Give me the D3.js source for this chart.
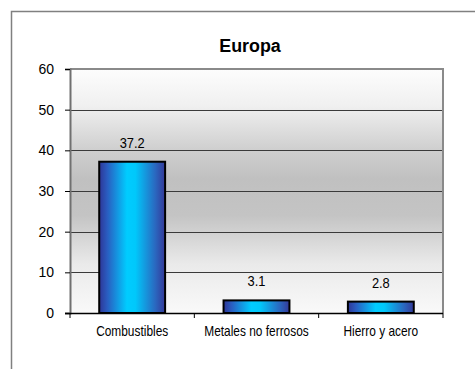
<!DOCTYPE html>
<html><head><meta charset="utf-8">
<script src="https://cdn.jsdelivr.net/npm/d3@7"></script>
<style>body{margin:0;background:#fff}svg{display:block}text{font-family:"Liberation Sans",Arial,sans-serif;fill:#000}</style>
</head><body><div id="chart"></div>
<script>
const title = "Europa";
const categories = ["Combustibles", "Metales no ferrosos", "Hierro y acero"];
const values = [37.2, 3.1, 2.8];
const valueLabels = ["37.2", "3.1", "2.8"];
const yTicks = [0, 10, 20, 30, 40, 50, 60];

const W = 475, H = 369;
const m = {left: 70, right: 32, top: 69, bottom: 56};
const svg = d3.select("#chart").append("svg").attr("width", W).attr("height", H);
const defs = svg.append("defs");

const bg = defs.append("linearGradient").attr("id","bg").attr("x1",0).attr("y1",0).attr("x2",0).attr("y2",1);
[[0,"#fdfdfd"],[0.15,"#f0f0f0"],[0.33,"#cfcfcf"],[0.45,"#c0c0c0"],[0.6,"#c4c4c4"],[0.8,"#eaeaea"],[1,"#f9f9f9"]]
  .forEach(([o,c])=>bg.append("stop").attr("offset",o).attr("stop-color",c));
const bar = defs.append("linearGradient").attr("id","bar").attr("x1",0).attr("y1",0).attr("x2",1).attr("y2",0);
[[0,"#2e3596"],[0.12,"#2a5cc0"],[0.42,"#00ccff"],[0.55,"#00c8fb"],[0.85,"#2a68c0"],[1,"#343898"]]
  .forEach(([o,c])=>bar.append("stop").attr("offset",o).attr("stop-color",c));

// outer frame (left and top)
svg.append("path").attr("d",`M11.5,${H} V11.5 H${W}`).attr("fill","none").attr("stroke","#808080").attr("stroke-width",1.5);

const x = d3.scaleBand().domain(categories).range([m.left, W - m.right]).paddingInner(0.47).paddingOuter(0.235);
const xb = d3.scaleBand().domain(categories).range([m.left, W - m.right]);
const y = d3.scaleLinear().domain([0, 60]).range([H - m.bottom, m.top]);

const x0 = m.left, x1 = W - m.right;
svg.append("rect").attr("x",x0).attr("y",y(60)).attr("width",x1-x0).attr("height",y(0)-y(60)).attr("fill","url(#bg)");

// gridlines
svg.append("g").selectAll("line").data(yTicks.filter(t=>t>0 && t<60)).join("line")
  .attr("x1",x0).attr("x2",x1).attr("y1",d=>Math.round(y(d))+0.5).attr("y2",d=>Math.round(y(d))+0.5)
  .attr("stroke","#3a3a3a").attr("stroke-width",1);
// top and right border
svg.append("path").attr("d",`M${x0},${y(60)} H${x1} V${y(0)}`).attr("fill","none").attr("stroke","#8a8a8a").attr("stroke-width",2);

// bars
svg.append("g").selectAll("rect").data(values).join("rect")
  .attr("x",(d,i)=>x(categories[i])).attr("width",x.bandwidth())
  .attr("y",d=>y(d)).attr("height",d=>y(0)-y(d))
  .attr("fill","url(#bar)").attr("stroke","#000").attr("stroke-width",2);

// value labels
svg.append("g").selectAll("text").data(values).join("text")
  .attr("x",(d,i)=>x(categories[i])+x.bandwidth()/2).attr("y",d=>y(d)-14)
  .attr("text-anchor","middle").attr("font-size","14px")
  .attr("transform",(d,i)=>{const cx=x(categories[i])+x.bandwidth()/2;return `translate(${cx},0) scale(0.92,1) translate(${-cx},0)`;})
  .text((d,i)=>valueLabels[i]);

// y axis
const yAxis = svg.append("g").attr("transform",`translate(${x0},0)`)
  .call(d3.axisLeft(y).tickValues(yTicks).tickSize(5).tickPadding(11));
yAxis.select(".domain").attr("stroke","#707070").attr("stroke-width",2);
yAxis.selectAll(".tick line").attr("stroke","#000");
yAxis.selectAll(".tick text").attr("font-size","14px").attr("font-family","Liberation Sans, Arial, sans-serif").attr("fill","#000");

// x axis
const xAxis = svg.append("g").attr("transform",`translate(0,${y(0)})`)
  .call(d3.axisBottom(xb).tickSize(0).tickPadding(12));
xAxis.select(".domain").attr("d",`M${x0-5},0.5H${x1}`).attr("stroke","#000").attr("stroke-width",1.5);
xAxis.selectAll(".tick text").attr("font-size","14px").attr("font-family","Liberation Sans, Arial, sans-serif")
  .attr("fill","#000").attr("dy","0.8em").attr("transform","scale(0.85,1)");
// category boundary ticks
const bounds = categories.map(c=>xb(c)).concat([x1]);
xAxis.append("g").selectAll("line").data(bounds).join("line")
  .attr("x1",d=>d).attr("x2",d=>d).attr("y1",0).attr("y2",5).attr("stroke","#000");

// title
svg.append("text").attr("x",250).attr("y",52).attr("text-anchor","middle")
  .attr("font-size","19px").attr("font-weight","bold")
  .attr("transform","translate(250,0) scale(0.94,1) translate(-250,0)").text(title);
</script></body></html>
